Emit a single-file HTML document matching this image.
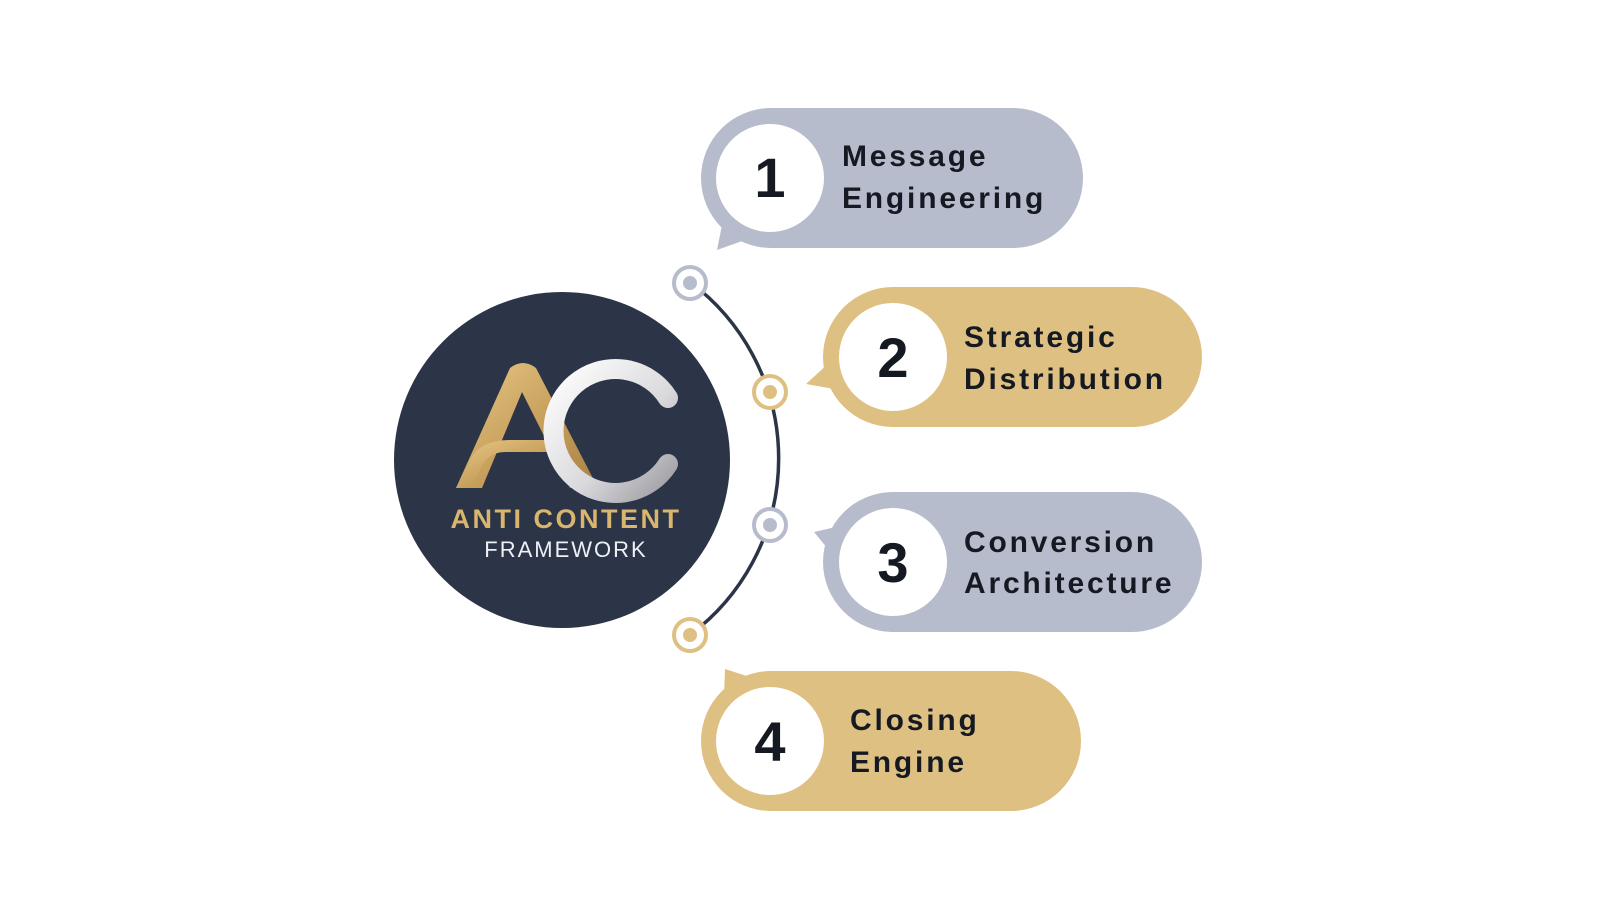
<!DOCTYPE html>
<html><head><meta charset="utf-8"><style>
html,body{margin:0;padding:0;background:#fff;}
svg{display:block}
text{font-family:"Liberation Sans",sans-serif;}
</style></head><body>
<svg width="1600" height="900" viewBox="0 0 1600 900" xmlns="http://www.w3.org/2000/svg">
<defs>
<linearGradient id="gold" x1="0" y1="0" x2="1" y2="1"><stop offset="0" stop-color="#e9c989"/><stop offset="0.5" stop-color="#c9a25e"/><stop offset="1" stop-color="#a98244"/></linearGradient>
<linearGradient id="silver" x1="0" y1="0" x2="1" y2="1"><stop offset="0" stop-color="#ffffff"/><stop offset="0.6" stop-color="#d9d9dc"/><stop offset="1" stop-color="#9d9da3"/></linearGradient>
</defs>
<path d="M690 282 A220 220 0 0 1 690 635" fill="none" stroke="#2c3447" stroke-width="3.5"/>
<circle cx="562" cy="460" r="168" fill="#2c3447"/>
<path d="M510 368 Q523 358 536 368 L598 488 L570 488 L522 392 L482 488 L456 488 Z" fill="url(#gold)"/>
<path d="M470 460 Q480 440 510 440 L560 440 L566 452 L505 452 Q485 452 478 475 L466 488 L456 488 Z" fill="url(#gold)"/>
<path d="M668 398 A62 62 0 1 0 668 464" fill="none" stroke="url(#silver)" stroke-width="20" stroke-linecap="round"/>
<text x="566" y="528" text-anchor="middle" font-size="27" font-weight="bold" fill="#d9b56e" letter-spacing="2.5">ANTI CONTENT</text>
<text x="566" y="557" text-anchor="middle" font-size="22" fill="#eef0f4" letter-spacing="2">FRAMEWORK</text>
<g stroke-width="4" fill="#fff">
<circle cx="690" cy="283" r="16" stroke="#b7bccd"/>
<circle cx="770" cy="392" r="16" stroke="#dfc083"/>
<circle cx="770" cy="525" r="16" stroke="#b7bccd"/>
<circle cx="690" cy="635" r="16" stroke="#dfc083"/>
</g>
<circle cx="690" cy="283" r="7" fill="#b7bccd"/>
<circle cx="770" cy="392" r="7" fill="#dfc083"/>
<circle cx="770" cy="525" r="7" fill="#b7bccd"/>
<circle cx="690" cy="635" r="7" fill="#dfc083"/>
<!-- pill 1 -->
<path d="M717 250 L722 225 L745 240 Z" fill="#b7bccd"/>
<rect x="701" y="108" width="382" height="140" rx="70" fill="#b7bccd"/>
<circle cx="770" cy="178" r="54" fill="#fff"/>
<text x="770" y="197" text-anchor="middle" font-size="56" font-weight="bold" fill="#151a22">1</text>
<text x="842" y="166" font-size="30" font-weight="bold" fill="#151a22" letter-spacing="2.8">Message</text>
<text x="842" y="208" font-size="30" font-weight="bold" fill="#151a22" letter-spacing="2.8">Engineering</text>
<!-- pill 2 -->
<path d="M806 384 L830 362 L840 390 Z" fill="#dfc083"/>
<rect x="823" y="287" width="379" height="140" rx="70" fill="#dfc083"/>
<circle cx="893" cy="357" r="54" fill="#fff"/>
<text x="893" y="377" text-anchor="middle" font-size="56" font-weight="bold" fill="#151a22">2</text>
<text x="964" y="347" font-size="30" font-weight="bold" fill="#151a22" letter-spacing="2.8">Strategic</text>
<text x="964" y="389" font-size="30" font-weight="bold" fill="#151a22" letter-spacing="2.8">Distribution</text>
<!-- pill 3 -->
<path d="M814 532 L840 526 L832 554 Z" fill="#b7bccd"/>
<rect x="823" y="492" width="379" height="140" rx="70" fill="#b7bccd"/>
<circle cx="893" cy="562" r="54" fill="#fff"/>
<text x="893" y="582" text-anchor="middle" font-size="56" font-weight="bold" fill="#151a22">3</text>
<text x="964" y="552" font-size="30" font-weight="bold" fill="#151a22" letter-spacing="2.8">Conversion</text>
<text x="964" y="593" font-size="30" font-weight="bold" fill="#151a22" letter-spacing="2.8">Architecture</text>
<!-- pill 4 -->
<path d="M725 669 L750 677 L724 695 Z" fill="#dfc083"/>
<rect x="701" y="671" width="380" height="140" rx="70" fill="#dfc083"/>
<circle cx="770" cy="741" r="54" fill="#fff"/>
<text x="770" y="761" text-anchor="middle" font-size="56" font-weight="bold" fill="#151a22">4</text>
<text x="850" y="730" font-size="30" font-weight="bold" fill="#151a22" letter-spacing="2.8">Closing</text>
<text x="850" y="772" font-size="30" font-weight="bold" fill="#151a22" letter-spacing="2.8">Engine</text>
</svg>
</body></html>
